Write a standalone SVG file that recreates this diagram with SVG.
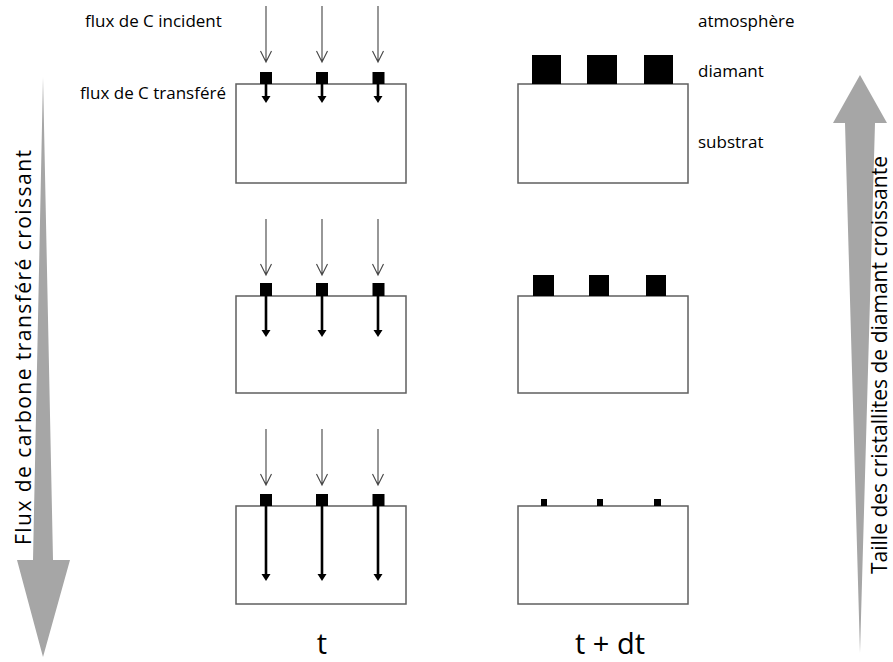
<svg xmlns="http://www.w3.org/2000/svg" width="893" height="662" viewBox="0 0 893 662">
<style>
.box{fill:#fff;stroke:#5f5f5f;stroke-width:1.5}
.sq{fill:#000}
.inc{stroke:#444;stroke-width:1.1;fill:none}
.thick{stroke:#000;stroke-width:2.6;fill:none}
.head{fill:#000}
.big{fill:#a6a6a6}
.lbl{font-family:"Open Sans","Liberation Sans",Arial,sans-serif;font-size:17px;fill:#000}
.side{font-family:"Open Sans","Liberation Sans",Arial,sans-serif;font-size:21px;fill:#000}
.time{font-family:"Open Sans","Liberation Sans",Arial,sans-serif;font-size:29px;fill:#000;text-anchor:middle}
</style>
<defs>
<g id="incArrow"><path class="inc" d="M0,0 V56 M-5.5,45 L0,56 L5.5,45"/></g>
</defs>
<rect width="893" height="662" fill="#fff"/>
<g id="big-arrows">
<polygon class="big" points="43,77 53,560 70,560 43,657 17,560 33,560"/>
<polygon class="big" points="860,75 887,123 875,123 860,653 845,123 833,123"/>
</g>
<g id="box-t1"><rect class="box" x="236" y="84" width="170" height="99"/></g>
<g id="box-t2"><rect class="box" x="236" y="296" width="170" height="97"/></g>
<g id="box-t3"><rect class="box" x="236" y="506" width="170" height="98"/></g>
<g id="box-dt1"><rect class="box" x="518" y="84" width="170" height="99"/></g>
<g id="box-dt2"><rect class="box" x="518" y="296" width="170" height="97"/></g>
<g id="box-dt3"><rect class="box" x="518" y="506" width="170" height="98"/></g>
<g id="connectors">
<use href="#incArrow" x="266" y="6"/><use href="#incArrow" x="322" y="6"/><use href="#incArrow" x="378" y="6"/>
<use href="#incArrow" x="266" y="219"/><use href="#incArrow" x="322" y="219"/><use href="#incArrow" x="378" y="219"/>
<use href="#incArrow" x="266" y="429"/><use href="#incArrow" x="322" y="429"/><use href="#incArrow" x="378" y="429"/>
<path class="thick" d="M266,84 V97 M322,84 V97 M378,84 V97"/>
<path class="head" d="M261.5,96 H270.5 L266,103 Z M317.5,96 H326.5 L322,103 Z M373.5,96 H382.5 L378,103 Z"/>
<path class="thick" d="M266,296 V331 M322,296 V331 M378,296 V331"/>
<path class="head" d="M261.5,330 H270.5 L266,337 Z M317.5,330 H326.5 L322,337 Z M373.5,330 H382.5 L378,337 Z"/>
<path class="thick" d="M266,506 V575 M322,506 V575 M378,506 V575"/>
<path class="head" d="M261.5,574 H270.5 L266,581 Z M317.5,574 H326.5 L322,581 Z M373.5,574 H382.5 L378,581 Z"/>
</g>
<g id="seeds-t">
<rect class="sq" x="260" y="72" width="12" height="12"/><rect class="sq" x="316" y="72" width="12" height="12"/><rect class="sq" x="372.5" y="72" width="12" height="12"/>
<rect class="sq" x="260" y="283" width="12" height="13"/><rect class="sq" x="316" y="283" width="12" height="13"/><rect class="sq" x="372.5" y="283" width="12" height="13"/>
<rect class="sq" x="260" y="494" width="12" height="12"/><rect class="sq" x="316" y="494" width="12" height="12"/><rect class="sq" x="372.5" y="494" width="12" height="12"/>
</g>
<g id="crystals-dt">
<rect class="sq" x="532" y="55" width="29" height="29"/><rect class="sq" x="587" y="55" width="30" height="29"/><rect class="sq" x="644" y="55" width="29" height="29"/>
<rect class="sq" x="533" y="275" width="21" height="21"/><rect class="sq" x="589" y="275" width="20" height="21"/><rect class="sq" x="646" y="275" width="20" height="21"/>
<rect class="sq" x="541" y="499" width="6" height="7"/><rect class="sq" x="597" y="499" width="6" height="7"/><rect class="sq" x="654" y="499" width="7" height="7"/>
</g>
<g id="labels">
<text class="lbl" x="85" y="27">flux de C incident</text>
<text class="lbl" x="80" y="99">flux de C transféré</text>
<text class="lbl" x="698" y="27">atmosphère</text>
<text class="lbl" x="698" y="77">diamant</text>
<text class="lbl" x="698" y="148">substrat</text>
<text class="time" x="322" y="654">t</text>
<text class="time" x="610" y="654">t + dt</text>
<text class="side" transform="translate(31,545) rotate(-90)" textLength="395">Flux de carbone transféré croissant</text>
<text class="side" transform="translate(887,574) rotate(-90)" textLength="418">Taille des cristallites de diamant croissante</text>
</g>
</svg>
